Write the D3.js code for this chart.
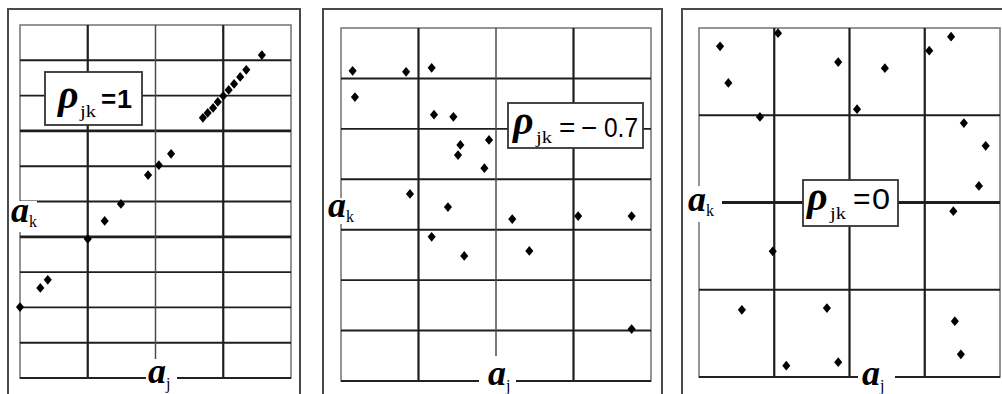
<!DOCTYPE html>
<html>
<head>
<meta charset="utf-8">
<script src="https://cdn.jsdelivr.net/npm/d3@7"></script>
<style>
  body { margin: 0; background: #fff; }
  svg { display: block; }
</style>
</head>
<body>
<svg id="chart" width="1002" height="394"></svg>
<script>
// Scatter samples (grid units: columns across, rows up) for three correlation cases.
const perfectPoints = [
  [0.00, 2.01], [0.30, 2.55], [0.41, 2.78], [1.00, 3.94], [1.25, 4.45],
  [1.49, 4.93], [1.89, 5.75], [2.05, 6.03], [2.23, 6.35], [2.70, 7.37],
  [2.77, 7.51], [2.85, 7.65], [2.92, 7.82], [3.00, 7.99], [3.08, 8.16],
  [3.16, 8.33], [3.25, 8.53], [3.34, 8.73], [3.57, 9.15]
];
const negativePoints = [
  [0.15, 6.15], [0.84, 6.13], [1.17, 6.21], [0.18, 5.63], [1.20, 5.28],
  [1.45, 5.24], [1.91, 4.78], [1.54, 4.68], [1.51, 4.48], [1.85, 4.22],
  [0.89, 3.71], [1.38, 3.45], [2.21, 3.21], [3.06, 3.27], [3.75, 3.27],
  [1.17, 2.86], [1.59, 2.48], [2.43, 2.58], [3.75, 1.03]
];
const zeroPoints = [
  [0.28, 3.79], [0.39, 3.37], [1.05, 3.94], [1.85, 3.61], [2.47, 3.54],
  [3.35, 3.90], [3.06, 3.74], [2.10, 3.07], [0.81, 2.98], [3.52, 2.91],
  [3.81, 2.65], [3.72, 2.19], [3.38, 1.90], [0.98, 1.44], [0.57, 0.77],
  [1.70, 0.79], [3.40, 0.64], [3.48, 0.26], [1.16, 0.13], [1.85, 0.17]
];
const rhoSigns = ["", "\u2212", ""];
const rhoNumbers = ["1", "0.7", "0"];
const columnCounts = [4, 4, 4];
const rowCounts = [10, 7, 4];
const axisNames = { vertical: "k", horizontal: "j" };

// Panel geometry
const panels = [
  {
    points: perfectPoints, sign: rhoSigns[0], num: rhoNumbers[0], cols: columnCounts[0], rows: rowCounts[0],
    frame: { x: 8, y: 9, w: 292, h: 420 },
    grid: { x0: 20, x1: 291, y0: 25, y1: 378 },
    thickRows: [4, 7], lightCols: [2],
    box: { x: 45, y: 72, w: 97, h: 53 },
    rhoText: { rx: 58, ry: 108, jx: 80, jy: 117, ex: 101, sx: 0, vx: 117, vy: 108, vs: 26, vw: 15, bold: true },
    ak: { x: 11, y: 222, bg: [9, 201, 28, 31] },
    aj: { x: 148, y: 383, bg: [146, 359, 31, 40] }
  },
  {
    points: negativePoints, sign: rhoSigns[1], num: rhoNumbers[1], cols: columnCounts[1], rows: rowCounts[1],
    frame: { x: 323, y: 9, w: 339, h: 420 },
    grid: { x0: 341, x1: 651, y0: 28, y1: 381 },
    thickRows: [], lightCols: [2],
    box: { x: 508, y: 103, w: 135, h: 45 },
    rhoText: { rx: 513, ry: 134, jx: 536, jy: 143, ex: 559, sx: 581, vx: 604, vy: 137, vs: 28, vw: 34, bold: false },
    ak: { x: 328, y: 217, bg: [327, 198, 32, 26] },
    aj: { x: 488, y: 385, bg: [479, 356, 37, 40] }
  },
  {
    points: zeroPoints, sign: rhoSigns[2], num: rhoNumbers[2], cols: columnCounts[2], rows: rowCounts[2],
    frame: { x: 682, y: 9, w: 340, h: 420 },
    grid: { x0: 699, x1: 1000, y0: 28, y1: 377 },
    thickRows: [2], lightCols: [],
    box: { x: 803, y: 180, w: 95, h: 46 },
    rhoText: { rx: 807, ry: 210, jx: 830, jy: 219, ex: 853, sx: 0, vx: 872, vy: 209, vs: 30, vw: 18, bold: false },
    ak: { x: 688, y: 211, bg: [686, 186, 36, 36] },
    aj: { x: 862, y: 385, bg: [858, 364, 37, 40] }
  }
];

const svg = d3.select("#chart");
const serif = "'Liberation Serif', 'Times New Roman', serif";
const sans = "'Liberation Sans', Arial, sans-serif";

panels.forEach(p => {
  const g = svg.append("g");
  const x = d3.scaleLinear().domain([0, p.cols]).range([p.grid.x0, p.grid.x1]);
  const y = d3.scaleLinear().domain([0, p.rows]).range([p.grid.y1, p.grid.y0]);

  // outer frame
  g.append("rect")
    .attr("x", p.frame.x).attr("y", p.frame.y)
    .attr("width", p.frame.w).attr("height", p.frame.h)
    .attr("fill", "none").attr("stroke", "#4a4a4a").attr("stroke-width", 2);

  // grid border
  g.append("rect")
    .attr("x", x(0)).attr("y", y(p.rows))
    .attr("width", x(p.cols) - x(0)).attr("height", y(0) - y(p.rows))
    .attr("fill", "none").attr("stroke", "#7a7a7a").attr("stroke-width", 1.6);

  // interior horizontal grid lines
  g.selectAll(".hline").data(d3.range(1, p.rows)).join("line")
    .attr("x1", x(0)).attr("x2", x(p.cols))
    .attr("y1", d => y(d)).attr("y2", d => y(d))
    .attr("stroke", "#1e1e1e")
    .attr("stroke-width", d => p.thickRows.includes(d) ? 2.8 : 1.9);

  // interior vertical grid lines
  g.selectAll(".vline").data(d3.range(1, p.cols)).join("line")
    .attr("y1", y(0)).attr("y2", y(p.rows))
    .attr("x1", d => x(d)).attr("x2", d => x(d))
    .attr("stroke", d => p.lightCols.includes(d) ? "#4d4d4d" : "#1e1e1e")
    .attr("stroke-width", d => p.lightCols.includes(d) ? 1.5 : 2.2);

  // bottom axis line
  g.append("line")
    .attr("x1", x(0)).attr("x2", x(p.cols))
    .attr("y1", y(0)).attr("y2", y(0))
    .attr("stroke", "#222").attr("stroke-width", 2);

  // scatter points
  const sym = d3.symbol().type(d3.symbolDiamond2).size(42);
  g.selectAll(".pt").data(p.points).join("path")
    .attr("d", sym)
    .attr("transform", d => `translate(${x(d[0])},${y(d[1])}) scale(1,1.2)`)
    .attr("fill", "#000");

  // correlation label box
  g.append("rect")
    .attr("x", p.box.x).attr("y", p.box.y)
    .attr("width", p.box.w).attr("height", p.box.h)
    .attr("fill", "#fff").attr("stroke", "#333").attr("stroke-width", 1.8);
  const t = p.rhoText;
  g.append("text").attr("x", t.rx).attr("y", t.ry)
    .attr("font-family", serif).attr("font-style", "italic").attr("font-weight", "bold")
    .attr("font-size", 40).text("\u03c1");
  g.append("text").attr("x", t.jx).attr("y", t.jy)
    .attr("font-family", serif).attr("font-size", 16)
    .attr("textLength", 16).attr("lengthAdjust", "spacingAndGlyphs").text("jk");
  g.append("text").attr("x", t.ex).attr("y", t.vy)
    .attr("font-family", sans).attr("font-weight", t.bold ? "bold" : "normal")
    .attr("font-size", t.vs).text("=");
  if (p.sign) {
    g.append("text").attr("x", t.sx).attr("y", t.vy)
      .attr("font-family", sans).attr("font-size", t.vs).text(p.sign);
  }
  g.append("text").attr("x", t.vx).attr("y", t.vy)
    .attr("font-family", sans).attr("font-weight", t.bold ? "bold" : "normal")
    .attr("font-size", t.vs)
    .attr("textLength", t.vw).attr("lengthAdjust", "spacingAndGlyphs")
    .text(p.num);

  // vertical axis name
  g.append("rect").attr("x", p.ak.bg[0]).attr("y", p.ak.bg[1])
    .attr("width", p.ak.bg[2]).attr("height", p.ak.bg[3]).attr("fill", "#fff");
  const ak = g.append("text").attr("x", p.ak.x).attr("y", p.ak.y)
    .attr("font-family", serif).attr("font-weight", "bold").attr("font-style", "italic")
    .attr("font-size", 36);
  ak.append("tspan").text("a");
  ak.append("tspan").attr("dy", 5).attr("font-size", 16).attr("font-weight", "normal")
    .attr("font-style", "normal").text(axisNames.vertical);

  // horizontal axis name
  g.append("rect").attr("x", p.aj.bg[0]).attr("y", p.aj.bg[1])
    .attr("width", p.aj.bg[2]).attr("height", p.aj.bg[3]).attr("fill", "#fff");
  const aj = g.append("text").attr("x", p.aj.x).attr("y", p.aj.y)
    .attr("font-family", serif).attr("font-weight", "bold").attr("font-style", "italic")
    .attr("font-size", 36);
  aj.append("tspan").text("a");
  aj.append("tspan").attr("dy", 6).attr("font-size", 16).attr("font-weight", "normal")
    .attr("font-style", "normal").text(axisNames.horizontal);
});
</script>
</body>
</html>
